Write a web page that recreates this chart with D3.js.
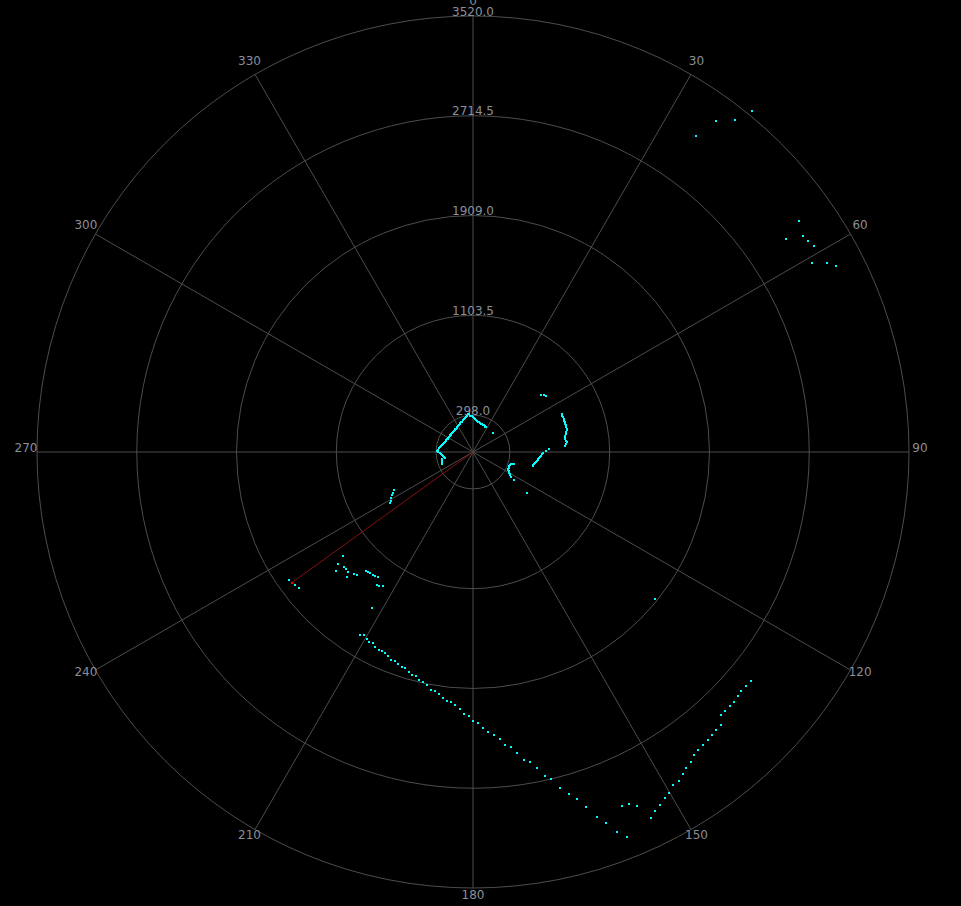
<!DOCTYPE html>
<html>
<head>
<meta charset="utf-8">
<script src="https://cdn.jsdelivr.net/npm/d3@7/dist/d3.min.js"></script>
<style>
  html, body { margin: 0; padding: 0; background: #000; }
  svg { display: block; }
</style>
</head>
<body>
<svg id="chart" width="961" height="906"></svg>
<script>
// ---- data ----
const angleTicks = [0, 30, 60, 90, 120, 150, 180, 210, 240, 270, 300, 330];
const radialTicks = [298, 1103.5, 1909, 2714.5, 3520];
const radialMax = 3520;

// scan points: angle (deg, clockwise from north) and distance
const scanAngles = [
  0, 2, 4, 6, 8, 10, 12, 14, 16, 18, 20, 22, 24, 26, 28,
  35.2, 36.3, 38.3, 39.3,
  46.5, 49.7, 51.1, 52.4,
  54.7, 55.8, 56.8, 57.8, 58.9, 60.9, 61.9, 62.9,
  67, 68, 69, 70, 71, 72, 73, 74, 75, 76, 77, 78, 79, 80, 81, 82, 83, 84, 85, 86,
  87.7, 89.2, 91, 92, 93, 94, 95, 96, 97, 98, 99, 100, 101, 102, 103,
  106, 107, 108, 109, 110, 111, 112, 113, 114, 115, 116, 117, 118, 119, 120, 121, 122, 123, 124,
  127, 128.9,
  129.5, 130.6, 131.7, 132.6, 133.8, 134.7, 135.8, 136.7, 137.7, 138.8, 139.8, 140.8, 141.9, 142.9,
  143.9, 144.9, 146.0, 146.9, 147.9, 149.0, 150.1, 151.0, 152.1, 153.1, 154.1, 155.1, 156.1, 157.2,
  158.2, 159.2, 160.3, 161.2, 162.3, 163.3, 164.3, 165.5, 166.6, 167.5, 168.6, 169.6, 170.6, 171.7,
  172.7, 173.8, 174.6, 175.8, 176.9, 177.9, 178.9, 180.0, 180.9, 182.0, 182.9, 184.0, 185.0, 186.0,
  187.0, 188.0, 189.0, 190.0, 191.2, 192.3, 193.3, 194.3, 195.3, 196.2, 197.5, 198.3, 199.5, 200.5,
  201.5, 202.6, 203.6, 204.6, 205.4, 206.7, 207.6, 208.7, 209.5, 210.8, 211.7,
  213.0, 213.9, 215.0, 215.8, 217.2, 218.3, 219.1, 220.5, 221.3, 222.0, 223.3, 224.3, 225.2, 226.2,
  227.3, 228.3, 229.1, 230.3, 231.3, 232.0, 233.2, 235.2,
  238.6, 239.4, 240.5, 242.1, 243.1, 244.4,
  249, 251, 253, 255, 257,
  258, 260, 262, 264, 266, 268, 270,
  272, 274, 276, 278, 280, 282, 284, 286, 288, 290, 292, 294, 296, 298, 300, 302, 304, 306, 308, 310,
  312, 314, 316, 318, 320, 322, 324, 326, 328, 330, 332, 334, 336, 338, 340, 342, 344, 346, 348, 350, 352,
  354, 356, 358
];
const scanDistances = [
  279, 272, 266, 260, 255, 250, 246, 242, 239, 236, 233, 231, 229, 227, 226,
  3122, 3315, 3414, 3557,
  223, 716, 733, 741,
  3225, 3056, 3184, 3196, 3216, 3133, 3240, 3293,
  778, 778, 778, 779, 779, 780, 779, 778, 778, 779, 778, 770, 763, 757, 752, 752, 756, 762, 750, 743,
  612, 587, 563, 555, 548, 541, 536, 530, 525, 520, 515, 508, 504, 499, 495,
  344, 335, 326, 318, 314, 312, 312, 313, 314, 316, 318, 320, 327, 333, 340, 347, 356, 366, 400,
  546, 1888,
  2908, 2903, 2899, 2908, 2918, 2917, 2917, 2918, 2977, 2981, 2990, 3001, 3007, 3014,
  3027, 3060, 3076, 3103, 3134, 3136, 3175, 3194, 3225, 3249, 3286, 3149, 3108, 3101,
  3348, 3281, 3182, 3112, 3008, 2924, 2868, 2802, 2714, 2679, 2603, 2545, 2520, 2456,
  2401, 2379, 2327, 2291, 2264, 2230, 2188, 2172, 2131, 2117, 2077, 2047, 2026, 2021,
  2001, 1973, 1954, 1951, 1917, 1900, 1892, 1866, 1866, 1850, 1828, 1828, 1816, 1801,
  1805, 1784, 1771, 1767, 1770, 1762, 1740, 1749, 1736, 1720, 1736,
  1498, 1303, 1321, 1324, 1267, 1276, 1280, 1281, 1285, 1290, 1365, 1376, 1433, 1399,
  1394, 1395, 1464, 1416, 1344, 1783, 1794, 1808,
  785, 772, 760, 743, 727, 710,
  270, 267, 264, 261, 258,
  234, 239, 246, 254, 262, 270, 281,
  288, 281, 274, 268, 262, 257, 253, 248, 245, 241, 239, 236, 234, 232, 230, 229, 228, 227, 227, 227,
  227, 228, 228, 229, 230, 232, 234, 236, 239, 241, 245, 248, 253, 257, 262, 268, 274, 281, 288, 296, 306,
  305, 295, 287
];

// current beam (highlighted)
const beamAngle = [234.2];
const beamDistance = [1804];

// ---- chart ----
const W = 961, H = 906;
const cx = 473, cy = 452;
const outerR = 436;
const labelR = 447;

const svg = d3.select("#chart");
svg.append("rect").attr("width", W).attr("height", H).attr("fill", "#000");

const g = svg.append("g").attr("transform", `translate(${cx},${cy})`);

const r = d3.scaleLinear().domain([0, radialMax]).range([0, outerR]);
const a = d3.scaleLinear().domain([0, 360]).range([0, 2 * Math.PI]);

const gridColor = "#4d4d4d";
const textColor = "#8a8f99";
const font = "'DejaVu Sans', sans-serif";

// rings
g.selectAll("circle.ring")
  .data(radialTicks)
  .join("circle")
  .attr("class", "ring")
  .attr("r", d => r(d))
  .attr("fill", "none")
  .attr("stroke", gridColor)
  .attr("stroke-width", 1);

// spokes
g.selectAll("line.spoke")
  .data(angleTicks)
  .join("line")
  .attr("class", "spoke")
  .attr("x1", 0).attr("y1", 0)
  .attr("x2", d => d3.pointRadial(a(d), outerR)[0])
  .attr("y2", d => d3.pointRadial(a(d), outerR)[1])
  .attr("stroke", gridColor)
  .attr("stroke-width", 1);

// angle labels
g.selectAll("text.alabel")
  .data(angleTicks)
  .join("text")
  .attr("class", "alabel")
  .attr("x", d => d3.pointRadial(a(d), labelR)[0])
  .attr("y", d => d3.pointRadial(a(d), labelR)[1])
  .attr("text-anchor", "middle")
  .attr("fill", textColor)
  .attr("font-family", font)
  .attr("font-size", 12)
  .text(d => d);

// radial labels
g.selectAll("text.rlabel")
  .data(radialTicks)
  .join("text")
  .attr("class", "rlabel")
  .attr("x", 0)
  .attr("y", d => -r(d) - 0.5)
  .attr("text-anchor", "middle")
  .attr("fill", textColor)
  .attr("font-family", font)
  .attr("font-size", 12)
  .text(d => d.toFixed(1));

// beam line
const beamData = beamAngle.map((ang, i) => ({ ang, dist: beamDistance[i] }));
g.selectAll("line.beam")
  .data(beamData)
  .join("line")
  .attr("class", "beam")
  .attr("x1", 0).attr("y1", 0)
  .attr("x2", d => d3.pointRadial(a(d.ang), r(d.dist))[0])
  .attr("y2", d => d3.pointRadial(a(d.ang), r(d.dist))[1])
  .attr("stroke", "#861010")
  .attr("stroke-width", 1);

// scan points
const pts = scanAngles.map((ang, i) => ({ ang, dist: scanDistances[i] }));
g.selectAll("rect.pt")
  .data(pts)
  .join("rect")
  .attr("class", "pt")
  .attr("x", d => Math.round(d3.pointRadial(a(d.ang), r(d.dist))[0]) - 1)
  .attr("y", d => Math.round(d3.pointRadial(a(d.ang), r(d.dist))[1]) - 1)
  .attr("width", 2).attr("height", 2)
  .attr("shape-rendering", "crispEdges")
  .attr("fill", "#00ffff");

// beam endpoint
g.selectAll("rect.beamPt")
  .data(beamData)
  .join("rect")
  .attr("class", "beamPt")
  .attr("x", d => Math.round(d3.pointRadial(a(d.ang), r(d.dist))[0]) - 1)
  .attr("y", d => Math.round(d3.pointRadial(a(d.ang), r(d.dist))[1]) - 1)
  .attr("width", 2).attr("height", 2)
  .attr("shape-rendering", "crispEdges")
  .attr("fill", "#ff0000");
</script>
</body>
</html>
